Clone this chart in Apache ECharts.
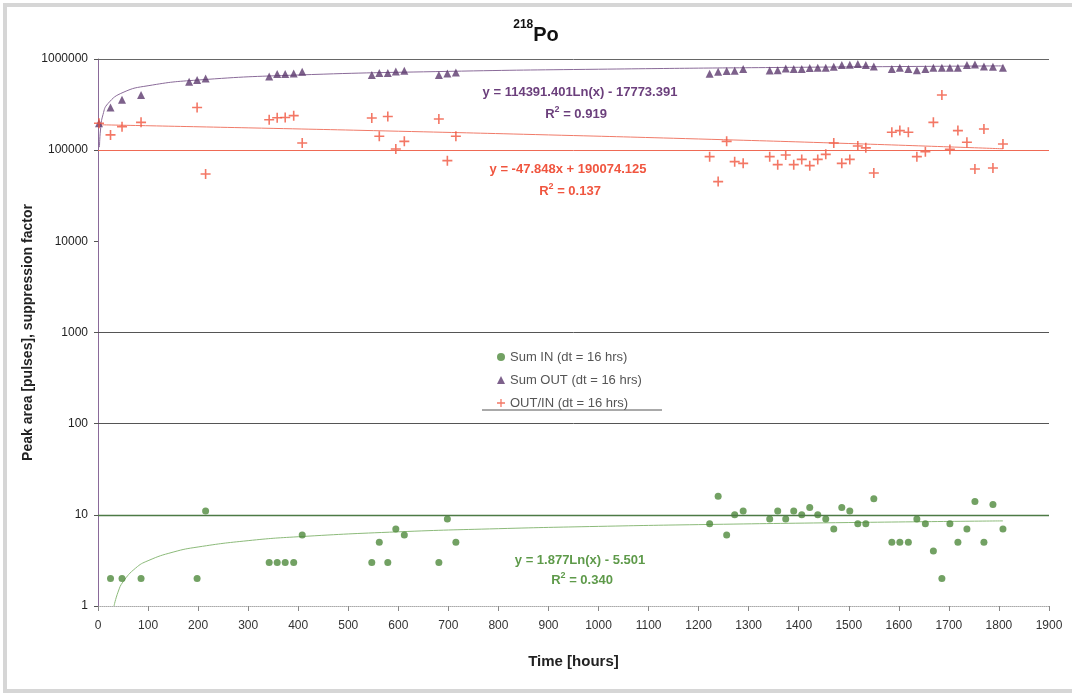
<!DOCTYPE html>
<html>
<head>
<meta charset="utf-8">
<script src="https://cdn.jsdelivr.net/npm/echarts@6/dist/echarts.min.js"></script>
<style>
  html, body { margin: 0; padding: 0; background: #fff; }
  #frame {
    position: absolute; left: 3px; top: 3px; width: 1080px; height: 682px;
    border: 4px solid #d6d6d6; border-right: none; box-sizing: content-box;
  }
  #chart { position: absolute; left: 0; top: 0; width: 1072px; height: 693px; }
</style>
</head>
<body>
<div id="frame"></div>
<div id="chart"></div>
<script>
// time in hours, shared by all three series
const hours = [2, 25, 48, 86, 182, 198, 215, 342, 358, 374, 391, 408, 547, 562, 579, 595, 612, 681, 698, 715,
  1222, 1239, 1256, 1272, 1289, 1342, 1358, 1374, 1390, 1406, 1422, 1438, 1454, 1470, 1486, 1502, 1518, 1534, 1550,
  1586, 1602, 1619, 1636, 1653, 1669, 1686, 1702, 1718, 1736, 1752, 1770, 1788, 1808];

const sumIn = [null, 2, 2, 2, null, 2, 11, 3, 3, 3, 3, 6, 3, 5, 3, 7, 6, 3, 9, 5,
  8, 16, 6, 10, 11, 9, 11, 9, 11, 10, 12, 10, 9, 7, 12, 11, 8, 8, 15,
  5, 5, 5, 9, 8, 4, 2, 8, 5, 7, 14, 5, 13, 7];

const sumOut = [197000, 294000, 357000, 403000, 562000, 587000, 612000, 643000, 683000, 683000, 693000, 724000,
  666000, 700000, 700000, 730000, 743000, 666000, 693000, 711000,
  690000, 724000, 737000, 743000, 775000, 748000, 755000, 787000, 775000, 775000, 795000, 801000, 801000, 822000,
  858000, 864000, 879000, 858000, 828000,
  775000, 801000, 775000, 755000, 775000, 801000, 801000, 801000, 801000, 858000, 871000, 828000, 822000, 801000];

const outIn = [197000, 147000, 181000, 202000, null, 294000, 54800, 216000, 227000, 228000, 239000, 120000,
  225000, 142000, 234000, 103000, 125000, 220000, 76700, 142000,
  84900, 45200, 125000, 74800, 71700, 84900, 69400, 88600, 69400, 79200, 67600, 79200, 90000, 120000,
  71700, 79200, 111000, 106000, 56200,
  157000, 164000, 157000, 84900, 96300, 202000, 403000, 102000, 164000, 122000, 62200, 171000, 63800, 117000];

// trend lines as drawn in the picture
const outTrendX = [3, 5, 10, 20, 50, 100, 200, 400, 700, 1000, 1400, 1808];
const outTrendY = [107900, 166300, 245600, 324900, 429700, 509000, 588300, 667600, 731600, 772400, 810900, 840200];
const ratioTrendX = [2, 300, 600, 900, 1200, 1500, 1808];
const ratioTrendY = [190000, 175720, 161370, 147010, 132660, 118300, 103560];
const inTrendX = [32, 40, 50, 75, 100, 150, 200, 300, 400, 600, 800, 1000, 1200, 1500, 1808];
const inTrendY = [1.0, 1.42, 1.84, 2.60, 3.14, 3.90, 4.44, 5.21, 5.75, 6.51, 7.05, 7.47, 7.81, 8.23, 8.58];

const xTicks = { min: 0, max: 1900, interval: 100 };
const decades = [1, 10, 100, 1000, 10000, 100000, 1000000];

const names = ['Sum IN (dt = 16 hrs)', 'Sum OUT (dt = 16 hrs)', 'OUT/IN (dt = 16 hrs)'];

const pairs = (xs, ys) => xs.map((x, i) => [x, ys[i]]).filter(p => p[1] != null);

const plus = 'path://M4.2,0H5.8V4.2H10V5.8H5.8V10H4.2V5.8H0V4.2H4.2Z';
const font = '"Liberation Sans", Arial, sans-serif';

const chart = echarts.init(document.getElementById('chart'));

// R² label styles (graphic text uses fill, not color)
const sup = (color) => ({
  t: { fontSize: 13, fontWeight: 'bold', fill: color, fontFamily: font, lineHeight: 16, verticalAlign: 'bottom' },
  s: { fontSize: 9, fontWeight: 'bold', fill: color, fontFamily: font, lineHeight: 16, verticalAlign: 'top' }
});

chart.setOption({
  animation: false,
  title: {
    text: '{s|218}{p|Po}',
    left: 'center',
    top: 14,
    textStyle: {
      rich: {
        s: { fontSize: 12, fontWeight: 'bold', color: '#111', fontFamily: font, lineHeight: 26, verticalAlign: 'top' },
        p: { fontSize: 20, fontWeight: 'bold', color: '#111', fontFamily: font, lineHeight: 26, verticalAlign: 'bottom' }
      }
    }
  },
  grid: { left: 98, right: 23, top: 59, bottom: 87 },
  legend: {
    orient: 'vertical',
    left: 492,
    top: 345,
    itemGap: 9,
    itemWidth: 8,
    itemHeight: 8,
    data: names,
    textStyle: { fontSize: 13, color: '#555', fontFamily: font, lineHeight: 14 }
  },
  xAxis: {
    type: 'value',
    min: xTicks.min,
    max: xTicks.max,
    interval: xTicks.interval,
    name: 'Time [hours]',
    nameLocation: 'middle',
    nameGap: 48,
    nameTextStyle: { fontSize: 15, fontWeight: 'bold', color: '#222', fontFamily: font },
    axisLine: { lineStyle: { color: '#aaa', type: 'dotted', width: 1 } },
    axisTick: { show: true, length: 5, lineStyle: { color: '#888' } },
    axisLabel: { fontSize: 12, color: '#333', margin: 14, fontFamily: font, formatter: v => String(v) },
    splitLine: { show: false }
  },
  yAxis: {
    type: 'log',
    logBase: 10,
    min: decades[0],
    max: decades[decades.length - 1],
    name: 'Peak area [pulses], suppression factor',
    nameLocation: 'middle',
    nameGap: 70,
    nameMoveOverlap: false,
    nameTextStyle: { fontSize: 14, fontWeight: 'bold', color: '#222', fontFamily: font, verticalAlign: 'middle' },
    axisLine: { show: true, lineStyle: { color: '#8a6a9a', width: 1 } },
    axisTick: { show: true, length: 4, lineStyle: { color: '#555' } },
    axisLabel: { fontSize: 12, color: '#222', margin: 10, fontFamily: font, formatter: v => String(Math.round(v)) },
    splitLine: { show: false }
  },
  graphic: [
    { type: 'line', shape: { x1: 482, y1: 410, x2: 662, y2: 410 }, style: { stroke: '#555', lineWidth: 1 } },
    { type: 'text', x: 580, y: 92, style: { text: 'y = 114391.401Ln(x) - 17773.391', fill: '#6b3f7c', font: 'bold 13px ' + font, textAlign: 'center', textVerticalAlign: 'middle' } },
    { type: 'text', x: 576, y: 113, style: { text: '{t|R}{s|2}{t| = 0.919}', fill: '#6b3f7c', rich: sup('#6b3f7c'), textAlign: 'center', textVerticalAlign: 'middle' } },
    { type: 'text', x: 568, y: 169, style: { text: 'y = -47.848x + 190074.125', fill: '#f0553f', font: 'bold 13px ' + font, textAlign: 'center', textVerticalAlign: 'middle' } },
    { type: 'text', x: 570, y: 190, style: { text: '{t|R}{s|2}{t| = 0.137}', fill: '#f0553f', rich: sup('#f0553f'), textAlign: 'center', textVerticalAlign: 'middle' } },
    { type: 'text', x: 580, y: 560, style: { text: 'y = 1.877Ln(x) - 5.501', fill: '#5e9a4a', font: 'bold 13px ' + font, textAlign: 'center', textVerticalAlign: 'middle' } },
    { type: 'text', x: 582, y: 579, style: { text: '{t|R}{s|2}{t| = 0.340}', fill: '#5e9a4a', rich: sup('#5e9a4a'), textAlign: 'center', textVerticalAlign: 'middle' } }
  ],
  series: [
    {
      name: 'grid',
      type: 'line',
      data: [],
      silent: true,
      z: 1,
      markLine: {
        silent: true,
        symbol: 'none',
        label: { show: false },
        animation: false,
        data: [
          { yAxis: decades[6], lineStyle: { color: '#666', width: 1, type: 'solid' } },
          { yAxis: decades[5], lineStyle: { color: '#ef6a55', width: 1, type: 'solid' } },
          { yAxis: decades[3], lineStyle: { color: '#555', width: 1, type: 'solid' } },
          { yAxis: decades[2], lineStyle: { color: '#555', width: 1, type: 'solid' } },
          { yAxis: decades[1], lineStyle: { color: '#4d7a45', width: 1.3, type: 'solid' } }
        ]
      }
    },
    {
      name: 'outTrend',
      type: 'line',
      data: pairs(outTrendX, outTrendY),
      smooth: true,
      showSymbol: false,
      silent: true,
      z: 2,
      lineStyle: { color: '#8a6b99', width: 1 }
    },
    {
      name: 'ratioTrend',
      type: 'line',
      data: pairs(ratioTrendX, ratioTrendY),
      smooth: true,
      showSymbol: false,
      silent: true,
      z: 2,
      lineStyle: { color: '#f07a68', width: 1 }
    },
    {
      name: 'inTrend',
      type: 'line',
      data: pairs(inTrendX, inTrendY),
      smooth: true,
      showSymbol: false,
      silent: true,
      z: 2,
      lineStyle: { color: '#8cba7a', width: 1 }
    },
    {
      name: names[0],
      type: 'scatter',
      data: pairs(hours, sumIn),
      symbol: 'circle',
      symbolSize: 7,
      z: 3,
      itemStyle: { color: '#4f8a3c' }
    },
    {
      name: names[1],
      type: 'scatter',
      data: pairs(hours, sumOut),
      symbol: 'triangle',
      symbolSize: 8,
      z: 3,
      itemStyle: { color: '#5c3a6e' }
    },
    {
      name: names[2],
      type: 'scatter',
      data: pairs(hours, outIn),
      symbol: plus,
      symbolSize: 10,
      z: 3,
      itemStyle: { color: '#f0553f' }
    }
  ]
});
</script>
</body>
</html>
